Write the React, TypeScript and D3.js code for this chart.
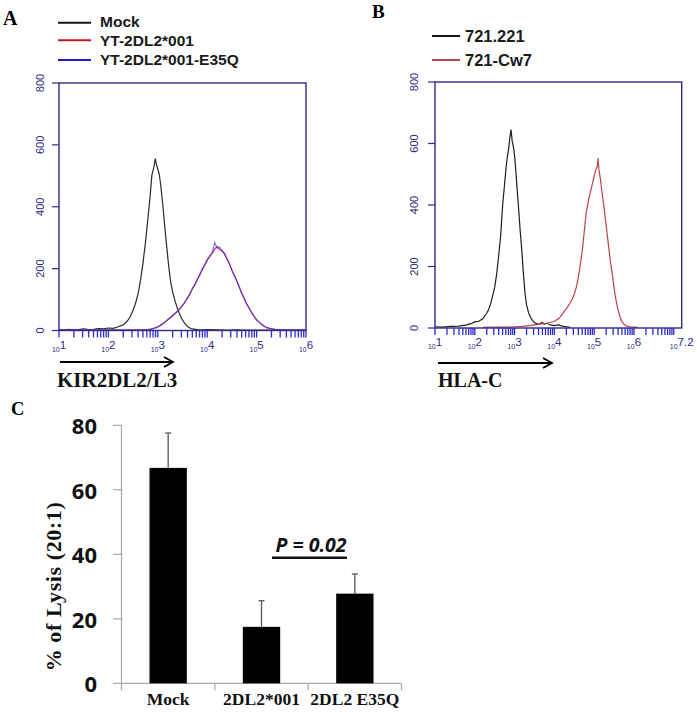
import React from 'react';
import * as d3 from 'd3';

// ---------- Panel A / B legends ----------
const legendA = ['Mock', 'YT-2DL2*001', 'YT-2DL2*001-E35Q'];
const legendAColors = ['#151515', '#c0161c', '#1c1cd0'];
const legendB = ['721.221', '721-Cw7'];
const legendBColors = ['#151515', '#b5474f'];

// ---------- histogram axes ----------
const countTicks = [0, 200, 400, 600, 800];
const decadesA = [1, 2, 3, 4, 5];
const decadesB = [1, 2, 3, 4, 5, 6];
const xLabelPosA = [1, 2, 3, 4, 5, 6];
const xLabelExpA = ['1', '2', '3', '4', '5', '6'];
const xLabelPosB = [1, 2, 3, 4, 5, 6, 7.2];
const xLabelExpB = ['1', '2', '3', '4', '5', '6', '7.2'];

// ---------- histogram series: [log10 intensity, count] ----------
const mockA: [number, number][] = [
  [1.0, 3], [1.1, 2], [1.2, 4], [1.3, 2], [1.4, 3], [1.5, 5], [1.6, 3], [1.7, 4], [1.8, 6], [1.9, 5],
  [2.0, 8], [2.1, 7], [2.2, 12], [2.3, 18], [2.35, 25], [2.4, 34], [2.45, 47], [2.5, 66], [2.55, 88],
  [2.6, 118], [2.65, 162], [2.7, 218], [2.75, 285], [2.8, 362], [2.85, 445], [2.88, 502], [2.92, 528],
  [2.95, 556], [2.97, 538], [3.0, 522], [3.03, 505], [3.06, 468], [3.1, 408], [3.14, 338], [3.18, 272],
  [3.22, 208], [3.26, 158], [3.3, 125], [3.35, 95], [3.4, 70], [3.45, 50], [3.5, 34], [3.55, 22],
  [3.6, 13], [3.65, 8], [3.7, 5], [3.8, 3], [3.9, 2], [4.0, 3], [4.2, 2], [4.4, 1], [4.6, 2], [4.8, 1],
  [5.0, 1], [5.5, 1], [6.0, 1],
];
const yt001A: [number, number][] = [
  [1.0, 2], [1.4, 1], [1.8, 2], [2.2, 1], [2.6, 2], [2.8, 3], [2.9, 6], [3.0, 12], [3.1, 22], [3.2, 34],
  [3.3, 47], [3.4, 63], [3.5, 80], [3.55, 93], [3.6, 104], [3.65, 119], [3.7, 134], [3.75, 149],
  [3.8, 164], [3.85, 182], [3.9, 196], [3.95, 213], [4.0, 226], [4.05, 241], [4.1, 249], [4.15, 263],
  [4.2, 272], [4.25, 261], [4.3, 259], [4.35, 247], [4.4, 233], [4.45, 214], [4.5, 196], [4.55, 176],
  [4.6, 161], [4.65, 139], [4.7, 121], [4.75, 102], [4.8, 86], [4.85, 71], [4.9, 58], [4.95, 45],
  [5.0, 35], [5.05, 27], [5.1, 20], [5.15, 14], [5.2, 10], [5.3, 5], [5.4, 3], [5.5, 2], [5.7, 1], [6.0, 1],
];
const e35qA: [number, number][] = [
  [1.0, 1], [1.4, 2], [1.8, 1], [2.2, 2], [2.6, 1], [2.8, 2], [2.9, 5], [3.0, 11], [3.1, 20], [3.2, 36],
  [3.3, 49], [3.4, 61], [3.5, 82], [3.55, 90], [3.6, 107], [3.65, 116], [3.7, 137], [3.75, 146],
  [3.8, 167], [3.85, 178], [3.9, 200], [3.95, 210], [4.0, 230], [4.05, 238], [4.1, 252], [4.15, 285],
  [4.2, 266], [4.25, 270], [4.3, 255], [4.35, 250], [4.4, 230], [4.45, 217], [4.5, 193], [4.55, 179],
  [4.6, 158], [4.65, 142], [4.7, 118], [4.75, 105], [4.8, 84], [4.85, 73], [4.9, 56], [4.95, 46],
  [5.0, 33], [5.05, 28], [5.1, 19], [5.15, 15], [5.2, 9], [5.3, 6], [5.4, 2], [5.5, 3], [5.7, 1], [6.0, 1],
];
const c221B: [number, number][] = [
  [1.0, 4], [1.2, 3], [1.4, 5], [1.6, 6], [1.8, 10], [1.9, 14], [2.0, 20], [2.1, 22], [2.2, 30], [2.3, 48],
  [2.35, 60], [2.4, 80], [2.45, 105], [2.5, 132], [2.55, 175], [2.6, 235], [2.65, 300], [2.7, 400],
  [2.75, 470], [2.8, 540], [2.85, 582], [2.88, 618], [2.91, 645], [2.94, 608], [2.97, 590], [3.0, 560],
  [3.03, 512], [3.06, 458], [3.1, 392], [3.14, 318], [3.18, 255], [3.22, 180], [3.26, 115], [3.3, 76],
  [3.35, 50], [3.4, 35], [3.45, 25], [3.5, 18], [3.55, 14], [3.6, 12], [3.7, 18], [3.75, 12], [3.8, 16],
  [3.9, 10], [4.0, 8], [4.1, 10], [4.2, 6], [4.3, 4], [4.4, 2],
];
const cw7B: [number, number][] = [
  [2.2, 2], [2.5, 3], [2.8, 3], [3.0, 4], [3.2, 5], [3.4, 8], [3.5, 10], [3.6, 12], [3.7, 14], [3.8, 15],
  [3.9, 18], [4.0, 22], [4.05, 26], [4.1, 30], [4.15, 36], [4.2, 45], [4.25, 55], [4.3, 62], [4.35, 72],
  [4.4, 82], [4.45, 95], [4.5, 110], [4.55, 132], [4.6, 162], [4.65, 205], [4.7, 250], [4.75, 312],
  [4.8, 375], [4.85, 410], [4.9, 440], [4.95, 466], [5.0, 495], [5.03, 510], [5.06, 520], [5.08, 526],
  [5.1, 552], [5.12, 515], [5.15, 490], [5.2, 440], [5.25, 390], [5.3, 335], [5.35, 280], [5.4, 225],
  [5.45, 180], [5.5, 130], [5.55, 90], [5.6, 60], [5.65, 35], [5.7, 20], [5.75, 12], [5.8, 7], [5.9, 4],
  [6.0, 3], [6.1, 2],
];

// ---------- Panel C ----------
const categories = ['Mock', '2DL2*001', '2DL2 E35Q'];
const lysis = [66.8, 17.5, 27.8];
const lysisErr = [10.8, 8.1, 6.1];
const lysisTicks = [0, 20, 40, 60, 80];

const NAVY = '#2c2c84';
const minorLogs = [2, 3, 4, 5, 6, 7, 8, 9].map((m) => Math.log10(m));

type Curve = { data: [number, number][]; color: string; opacity?: number };

function Histogram(props: {
  left: number; right: number; top: number; bottom: number;
  xMax: number; decades: number[]; labelPos: number[]; labelExp: string[];
  curves: Curve[]; yLabelX: number;
}) {
  const { left, right, top, bottom, xMax, decades, labelPos, labelExp, curves, yLabelX } = props;
  const x = d3.scaleLinear().domain([1, xMax]).range([left, right]);
  const y = d3.scaleLinear().domain([0, 800]).range([bottom, top]);
  const line = d3.line<[number, number]>().x((d) => x(d[0])).y((d) => y(d[1]));
  const ticks: { v: number; major: boolean }[] = [];
  decades.forEach((d) => {
    ticks.push({ v: d, major: true });
    minorLogs.forEach((m) => ticks.push({ v: d + m, major: false }));
  });
  if (xMax > decades[decades.length - 1] + 1 - 1e-9) ticks.push({ v: decades[decades.length - 1] + 1, major: true });
  return (
    <g>
      {curves.map((c, i) => (
        <path key={i} d={line(c.data) || ''} fill="none" stroke={c.color} strokeWidth={1.2} opacity={c.opacity ?? 1} />
      ))}
      <rect x={left} y={top} width={right - left} height={bottom - top} fill="none" stroke={NAVY} strokeWidth={1.4} />
      {countTicks.map((t) => (
        <g key={t}>
          <line x1={left - 7} x2={left} y1={y(t)} y2={y(t)} stroke={NAVY} strokeWidth={1.2} />
          <text transform={`translate(${yLabelX},${y(t)}) rotate(-90)`} textAnchor="middle" dominantBaseline="central"
            fontFamily="Liberation Sans, Arial, sans-serif" fontSize={11} fill={NAVY}>{t}</text>
        </g>
      ))}
      {ticks.filter((t) => t.v <= xMax + 1e-9).map((t, i) => (
        <line key={i} x1={x(t.v)} x2={x(t.v)} y1={bottom} y2={bottom + 7} stroke="#2a2ad0" strokeWidth={1.3} />
      ))}
      {labelPos.map((p, i) => (
        <text key={i} x={x(p)} y={bottom + 21} textAnchor="middle" fontFamily="Liberation Sans, Arial, sans-serif" fill={NAVY}>
          <tspan fontSize={7}>10</tspan>
          <tspan fontSize={11.5} dy={-3}>{labelExp[i]}</tspan>
        </text>
      ))}
    </g>
  );
}

function Arrow({ x1, x2, y }: { x1: number; x2: number; y: number }) {
  return (
    <g stroke="#000" strokeWidth={1.8} fill="none">
      <line x1={x1} x2={x2} y1={y} y2={y} />
      <polyline points={`${x2 - 9},${y - 5} ${x2},${y} ${x2 - 9},${y + 5}`} />
    </g>
  );
}

function BarPanel() {
  const x = d3.scaleBand<string>().domain(categories).range([121.5, 401.5]).paddingInner(0.6).paddingOuter(0.3);
  const y = d3.scaleLinear().domain([0, 80]).range([683.3, 425.3]);
  const step = x.step();
  const bounds = [0, 1, 2, 3].map((i) => 121.5 + i * step);
  const axisColor = '#a8a8a8';
  return (
    <g>
      <line x1={121.5} x2={121.5} y1={y(80)} y2={y(0) + 7} stroke={axisColor} strokeWidth={1.2} />
      <line x1={121.5} x2={401.5} y1={y(0)} y2={y(0)} stroke={axisColor} strokeWidth={1.2} />
      {bounds.map((b, i) => (
        <line key={i} x1={b} x2={b} y1={y(0)} y2={y(0) + 7} stroke={axisColor} strokeWidth={1.2} />
      ))}
      {lysisTicks.map((t) => (
        <g key={t}>
          <line x1={113} x2={121.5} y1={y(t)} y2={y(t)} stroke={axisColor} strokeWidth={1.2} />
          <text x={97} y={y(t)} textAnchor="end" dominantBaseline="central" fontFamily="Open Sans, sans-serif"
            fontWeight="bold" fontSize={22} fill="#111">{t}</text>
        </g>
      ))}
      {categories.map((c, i) => {
        const cx = (x(c) as number) + x.bandwidth() / 2;
        return (
          <g key={c}>
            <rect x={x(c)} y={y(lysis[i])} width={x.bandwidth()} height={y(0) - y(lysis[i])} fill="#000" />
            <line x1={cx} x2={cx} y1={y(lysis[i])} y2={y(lysis[i] + lysisErr[i])} stroke="#555" strokeWidth={1.3} />
            <line x1={cx - 3} x2={cx + 3} y1={y(lysis[i] + lysisErr[i])} y2={y(lysis[i] + lysisErr[i])} stroke="#555" strokeWidth={1.3} />
            <text x={cx} y={705} textAnchor="middle" fontFamily="Liberation Serif, Times New Roman, serif" fontWeight="bold"
              fontSize={17.5} fill="#111">{c}</text>
          </g>
        );
      })}
      <text transform="translate(53,586.5) rotate(-90)" textAnchor="middle" dominantBaseline="central"
        fontFamily="Liberation Serif, Times New Roman, serif" fontWeight="bold" fontSize={22} letterSpacing={0.6} fill="#111">% of Lysis (20:1)</text>
      <text x={311} y={552} textAnchor="middle" fontFamily="Open Sans, sans-serif" fontWeight="bold" fontStyle="italic"
        fontSize={19.5} fill="#111">P = 0.02</text>
      <line x1={272} x2={347} y1={557.7} y2={557.7} stroke="#111" strokeWidth={2.5} />
    </g>
  );
}

export default function App() {
  return (
    <svg width={697} height={712} viewBox="0 0 697 712" style={{ position: 'absolute', left: 0, top: 0, background: '#fff' }}>
      {/* Panel letters */}
      <text x={3} y={25} fontFamily="Liberation Serif, serif" fontWeight="bold" fontSize={20}>A</text>
      <text x={372} y={17.5} fontFamily="Liberation Serif, serif" fontWeight="bold" fontSize={19}>B</text>
      <text x={11} y={415} fontFamily="Liberation Serif, serif" fontWeight="bold" fontSize={18.5}>C</text>

      {/* Legend A */}
      {legendA.map((l, i) => (
        <g key={l}>
          <line x1={58} x2={91} y1={[22.7, 40.3, 60][i]} y2={[22.7, 40.3, 60][i]} stroke={legendAColors[i]} strokeWidth={2} />
          <text x={100} y={[27.4, 45.6, 65.2][i]} fontFamily="Liberation Sans, Arial, sans-serif" fontWeight="bold" fontSize={15.5} fill="#1a1a1a">{l}</text>
        </g>
      ))}
      {/* Legend B */}
      {legendB.map((l, i) => (
        <g key={l}>
          <line x1={432} x2={460} y1={[36, 60][i]} y2={[36, 60][i]} stroke={legendBColors[i]} strokeWidth={2} />
          <text x={465} y={[41.8, 65.5][i]} fontFamily="Liberation Sans, Arial, sans-serif" fontWeight="bold" fontSize={16.5} fill="#1a1a1a">{l}</text>
        </g>
      ))}

      <Histogram left={59} right={306} top={83} bottom={330.5} xMax={6} decades={decadesA}
        labelPos={xLabelPosA} labelExp={xLabelExpA} yLabelX={40}
        curves={[
          { data: mockA, color: '#2a2a2a' },
          { data: yt001A, color: '#d0205a' },
          { data: e35qA, color: '#3a3ad8', opacity: 0.7 },
        ]} />
      <Histogram left={435} right={681.7} top={82} bottom={328} xMax={7.2} decades={decadesB}
        labelPos={xLabelPosB} labelExp={xLabelExpB} yLabelX={414}
        curves={[
          { data: c221B, color: '#1e1e1e' },
          { data: cw7B, color: '#c0404a' },
        ]} />

      <Arrow x1={60} x2={173} y={362} />
      <text x={57} y={386.7} fontFamily="Liberation Serif, serif" fontWeight="bold" fontSize={21} fill="#111">KIR2DL2/L3</text>
      <Arrow x1={438} x2={552} y={363} />
      <text x={438} y={386.7} fontFamily="Liberation Serif, serif" fontWeight="bold" fontSize={20} fill="#111">HLA-C</text>

      <BarPanel />
    </svg>
  );
}
